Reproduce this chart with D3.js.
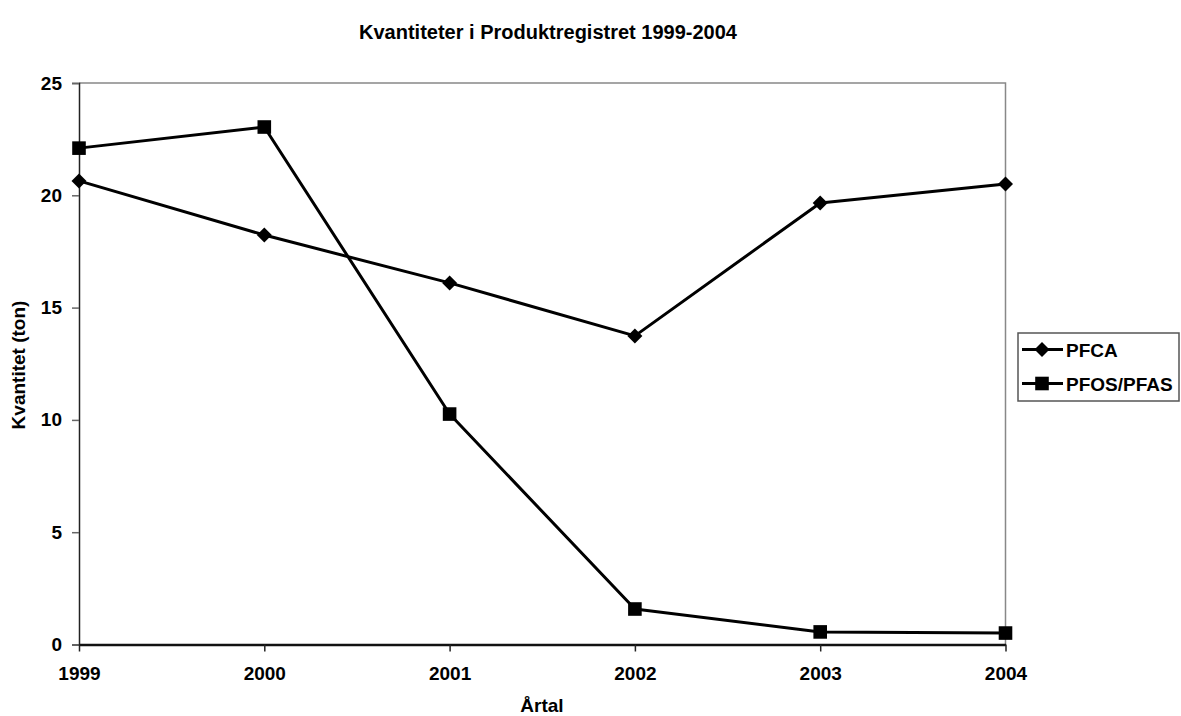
<!DOCTYPE html>
<html>
<head>
<meta charset="utf-8">
<script src="https://cdn.jsdelivr.net/npm/d3@7"></script>
<style>
  html, body { margin: 0; padding: 0; background: #fff; }
  svg text { font-family: "Liberation Sans", Arial, sans-serif; font-weight: bold; fill: #000; }
</style>
</head>
<body>
<svg id="chart" width="1181" height="716"></svg>
<script>
'use strict';

// data
var years = [1999, 2000, 2001, 2002, 2003, 2004];
var pfca = [20.64, 18.23, 16.1, 13.74, 19.66, 20.5];
var pfos = [22.1, 23.04, 10.26, 1.58, 0.56, 0.51];
var yTicks = [0, 5, 10, 15, 20, 25];
var seriesNames = ['PFCA', 'PFOS/PFAS'];

var svg = d3.select('#chart');
var plot = { left: 79, right: 1005.5, top: 83, bottom: 644.5 };

var x = d3.scalePoint().domain(years).range([plot.left, plot.right]);
var y = d3.scaleLinear().domain([0, 25]).range([plot.bottom, plot.top]);

// plot frame: grey top / right
svg.append('path')
  .attr('d', 'M' + plot.left + ',' + plot.top + 'H' + plot.right + 'V' + plot.bottom)
  .attr('fill', 'none').attr('stroke', '#888').attr('stroke-width', 1.5);

// y axis
var yAxis = svg.append('g')
  .attr('transform', 'translate(' + plot.left + ',0)')
  .call(d3.axisLeft(y).tickValues(yTicks).tickSize(7).tickPadding(10).tickFormat(d3.format('d')));
yAxis.select('.domain').attr('stroke', '#222').attr('stroke-width', 1.5);
yAxis.selectAll('.tick line').attr('stroke', '#666').attr('stroke-width', 1.5);
yAxis.selectAll('text').style('font-size', '19px').attr('fill', '#000');

// x axis
var xAxis = svg.append('g')
  .attr('transform', 'translate(0,' + plot.bottom + ')')
  .call(d3.axisBottom(x).tickSize(7).tickPadding(15).tickSizeOuter(0));
xAxis.select('.domain').attr('stroke', '#111').attr('stroke-width', 2.5);
xAxis.selectAll('.tick line').attr('stroke', '#222').attr('stroke-width', 1.5);
xAxis.selectAll('text').style('font-size', '19px').attr('fill', '#000');

// lines
var line = d3.line().x(function(d, i) { return x(years[i]); }).y(function(d) { return y(d); });
[pfca, pfos].forEach(function(s) {
  svg.append('path').datum(s).attr('d', line)
    .attr('fill', 'none').attr('stroke', '#000').attr('stroke-width', 3).attr('stroke-linejoin', 'round');
});

var diamond = 'M0,-7.5L7.5,0L0,7.5L-7.5,0Z';
var square = 'M-6.8,-6.8H6.8V6.8H-6.8Z';

svg.append('g').selectAll('path').data(pfca).join('path')
  .attr('d', diamond)
  .attr('transform', function(d, i) { return 'translate(' + x(years[i]) + ',' + y(d) + ')'; });
svg.append('g').selectAll('path').data(pfos).join('path')
  .attr('d', square)
  .attr('transform', function(d, i) { return 'translate(' + x(years[i]) + ',' + y(d) + ')'; });

// titles
svg.append('text').attr('x', 548).attr('y', 39).attr('text-anchor', 'middle')
  .style('font-size', '20px').text('Kvantiteter i Produktregistret 1999-2004');
svg.append('text').attr('x', 542).attr('y', 712).attr('text-anchor', 'middle')
  .style('font-size', '19px').text('Årtal');
svg.append('text').attr('transform', 'translate(25,365) rotate(-90)').attr('text-anchor', 'middle')
  .style('font-size', '19px').text('Kvantitet (ton)');

// legend
var legend = svg.append('g');
legend.append('rect').attr('x', 1018).attr('y', 333).attr('width', 161).attr('height', 68)
  .attr('fill', '#fff').attr('stroke', '#555').attr('stroke-width', 1.5);
var markers = [diamond, square];
seriesNames.forEach(function(name, i) {
  var cy = 349.5 + i * 34;
  legend.append('line').attr('x1', 1022).attr('x2', 1063).attr('y1', cy).attr('y2', cy)
    .attr('stroke', '#000').attr('stroke-width', 3);
  legend.append('path').attr('d', markers[i]).attr('transform', 'translate(1042,' + cy + ')');
  legend.append('text').attr('x', 1066).attr('y', cy + 7).style('font-size', '19px').text(name);
});
</script>
</body>
</html>
